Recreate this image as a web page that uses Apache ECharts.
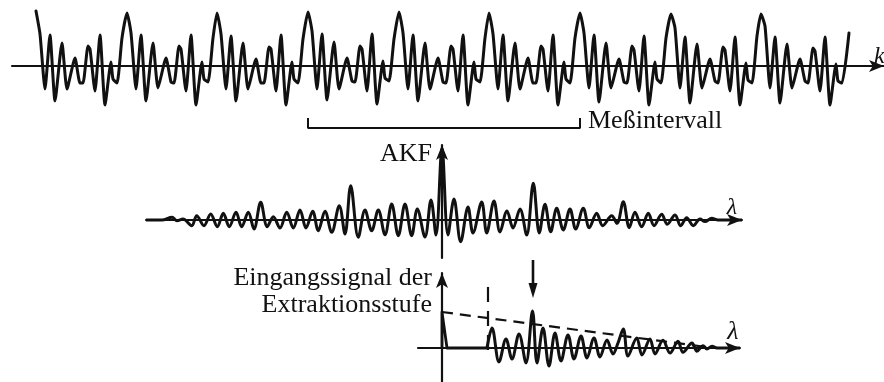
<!DOCTYPE html>
<html>
<head>
<meta charset="utf-8">
<script src="https://cdn.jsdelivr.net/npm/echarts@6/dist/echarts.min.js"></script>
<style>
  html, body { margin: 0; padding: 0; background: #fff; }
  #chart { width: 884px; height: 382px; }
</style>
</head>
<body>
<div id="chart"></div>
<script>
// Periodic measured signal x(k): lag positions and amplitudes of its turning points
const signalK = [
  0, 4, 9, 14, 19, 26, 31, 39, 44, 47, 52, 54, 59, 64, 69, 75, 77, 81, 86,
  91, 95, 100, 105, 110, 117, 122, 130, 135, 138, 143, 145, 150, 155, 160, 166, 168, 172, 177,
  181, 185, 190, 195, 200, 207, 212, 220, 225, 228, 233, 235, 240, 245, 250, 256, 258, 262, 267,
  272, 276, 281, 286, 291, 298, 303, 311, 316, 319, 324, 326, 331, 336, 341, 347, 349, 353, 358,
  363, 367, 372, 377, 382, 389, 394, 402, 407, 410, 415, 417, 422, 427, 432, 438, 440, 444, 449,
  453, 457, 462, 467, 472, 479, 484, 492, 497, 500, 505, 507, 512, 517, 522, 528, 530, 534, 539,
  544, 548, 553, 558, 563, 570, 575, 583, 588, 591, 596, 598, 603, 608, 613, 619, 621, 625, 630,
  635, 639, 644, 649, 654, 661, 666, 674, 679, 682, 687, 689, 694, 699, 704, 710, 712, 716, 721,
  725, 729, 734, 739, 744, 751, 756, 764, 769, 772, 777, 779, 784, 789, 794, 800, 802, 806, 813
];
const signalX = [
  55, 32, -23, 31, -35, 23, -23, 8, -17, -17, 20, 17, -25, 31, -39, 4, -13, -17, 28,
  53, 33, -23, 31, -35, 23, -22, 8, -16, -17, 20, 17, -25, 31, -39, 4, -13, -16, 28,
  53, 32, -23, 30, -35, 23, -23, 7, -17, -17, 19, 17, -25, 31, -39, 4, -13, -17, 27,
  54, 35, -23, 32, -34, 24, -23, 8, -15, -16, 20, 17, -25, 32, -38, 5, -12, -15, 27,
  54, 33, -23, 31, -35, 23, -23, 8, -16, -17, 20, 17, -25, 31, -39, 4, -13, -16, 28,
  53, 32, -23, 31, -35, 23, -23, 8, -17, -17, 20, 17, -25, 31, -39, 4, -13, -17, 28,
  53, 33, -22, 31, -36, 23, -22, 7, -16, -17, 20, 16, -25, 30, -39, 4, -13, -17, 28,
  52, 38, -22, 29, -37, 22, -22, 7, -15, -17, 19, 16, -25, 29, -39, 3, -14, -17, 30,
  52, 40, -22, 29, -37, 22, -22, 7, -15, -17, 18, 15, -25, 29, -39, 2, -15, -17, 33
];
// Measuring interval (three signal periods)
const intervalK = [272, 544];
const bracketLevels = [-52, -62];

// Autocorrelation function AKF(λ)
const akfLag = [
  -296, -280, -270, -265, -259, -250.3, -245.3, -238, -231.3, -224.7, -218.7, -212.7, -206, -200.3,
  -193.7, -188, -181.3, -174.7, -168.7, -162, -155.3, -148.7, -142, -136, -129.3, -123.7, -117,
  -110.3, -102.7, -97, -91.3, -83.7, -77, -70.3, -63.7, -57, -50.3, -43.7, -37, -30.3, -24.7, -17,
  -11, -6, 0, 6, 12, 18.7, 26, 31, 39.7, 44.7, 52, 58, 65, 71, 78, 84.7, 91.3, 97.3, 103, 108.7,
  114.7, 121.3, 128, 133.7, 141.3, 147.3, 154.7, 160.7, 169.7, 175, 181.3, 187.3, 193, 199.7, 206.3,
  212, 219.7, 225.3, 233, 238.7, 244.7, 251.3, 258, 263, 269.7, 276, 300
];
const akfValue = [
  0, 0, 2.7, -0.7, 1, -5.7, 4.3, -5.7, 6, -6.7, 6.7, -6.7, 7.7, -6.7,
  7.7, -9, 17.7, -6.7, 3.3, -8, 7.7, -8, 10, -8, 8.7, -10.7, 8.7,
  -12.3, 14.3, -14, 34.3, -17.3, 10, -10.7, 10, -14.7, 16, -15.7, 16, -15.7, 11, -17,
  20, -15, 72, -15, 21, -21.7, 13, -13, 18, -13, 19, -12, 9, -8, 11, -15, 36.7, -13, 15.7, -11.7,
  11.7, -10, 11, -9, 11.7, -7.7, 6.7, -5.7, 4.3, -3.3, 18.3, -7.7, 7.7, -6.7, 6.7,
  -5.7, 5.7, -4.3, 5, -5.7, 2.3, -5.7, 1, -1.5, 1.7, 0, 0
];

// Input of the extraction stage: zero-lag spike, blanked region, then the AKF tail
const spikeLag = [0, 0, 5, 45];
const spikeValue = [0, 36, 0, 0];
const inputLag = [
  45, 50, 57, 64, 70, 77, 84, 90.5, 95, 101, 107, 113, 119, 126, 132, 139, 145, 152, 158, 165,
  171, 176, 181.3, 186, 194.7, 200, 208, 213, 221, 228, 236, 241, 250, 255, 261, 265, 270, 275, 298
];
const inputValue = [
  0, 20, -14, 9, -11, 14, -15, 37, -15, 20, -18, 15, -13, 13, -11, 12, -10, 10, -9, 8,
  -6, 5, 19, -8, 10, -7, 9, -6, 7.7, -5, 6.7, -4.3, 5, -3.3, 2.3, -1, 1.7, 0, 0
];
// Decaying threshold line, blanking boundary and the selected maximum
const envelopeLag = [0, 272];
const envelopeValue = [36, 0];
const cutLag = 46;
const cutValues = [61, -7];
const markedLag = 91;
const markerValues = [88, 57.5];

const zip = (xs, ys) => xs.map((x, i) => [x, ys[i]]);
const INK = '#111';
const SERIF = "'Liberation Serif', 'DejaVu Serif', serif";

function arrowAxis(extra) {
  return Object.assign({
    type: 'value',
    axisLine: {
      show: true, onZero: true,
      symbol: ['none', 'arrow'], symbolSize: [9, 15],
      lineStyle: { color: INK, width: 2.2 }
    },
    axisTick: { show: false },
    axisLabel: { show: false },
    splitLine: { show: false }
  }, extra);
}

function text(str, x, y, align, size, italic) {
  return {
    type: 'text', x: x, y: y, silent: true,
    style: {
      text: str,
      font: (italic ? 'italic ' : '') + size + 'px ' + SERIF,
      fill: INK,
      align: align, verticalAlign: 'middle',
      textAlign: align, textVerticalAlign: 'middle'
    }
  };
}

const chart = echarts.init(document.getElementById('chart'));

chart.setOption({
  backgroundColor: '#fff',
  animation: false,
  grid: [
    { left: 12, top: 0, width: 872, height: 136 },
    { left: 146, top: 145, width: 596, height: 113 },
    { left: 418, top: 273, width: 322, height: 109 }
  ],
  xAxis: [
    arrowAxis({ gridIndex: 0, min: -24, max: 848 }),
    arrowAxis({ gridIndex: 1, min: -296, max: 300 }),
    arrowAxis({ gridIndex: 2, min: -24, max: 298 })
  ],
  yAxis: [
    { type: 'value', gridIndex: 0, min: -70, max: 66, show: false },
    arrowAxis({ gridIndex: 1, min: -38, max: 75 }),
    arrowAxis({ gridIndex: 2, min: -34, max: 75 })
  ],
  series: [
    {
      name: 'x(k)', type: 'line', xAxisIndex: 0, yAxisIndex: 0,
      data: zip(signalK, signalX), smooth: 0.18, symbol: 'none',
      lineStyle: { color: INK, width: 3, join: 'round', cap: 'round' }
    },
    {
      name: 'Meßintervall', type: 'line', xAxisIndex: 0, yAxisIndex: 0,
      data: [
        [intervalK[0], bracketLevels[0]], [intervalK[0], bracketLevels[1]],
        [intervalK[1], bracketLevels[1]], [intervalK[1], bracketLevels[0]]
      ],
      symbol: 'none', lineStyle: { color: INK, width: 2 }
    },
    {
      name: 'AKF', type: 'line', xAxisIndex: 1, yAxisIndex: 1,
      data: zip(akfLag, akfValue), smooth: 0.35, symbol: 'none',
      lineStyle: { color: INK, width: 3, join: 'round' }
    },
    {
      name: 'Spitze', type: 'line', xAxisIndex: 2, yAxisIndex: 2,
      data: zip(spikeLag, spikeValue), symbol: 'none',
      lineStyle: { color: INK, width: 2.8, join: 'round' }
    },
    {
      name: 'Eingangssignal', type: 'line', xAxisIndex: 2, yAxisIndex: 2,
      data: zip(inputLag, inputValue), smooth: 0.35, symbol: 'none',
      lineStyle: { color: INK, width: 3, join: 'round' }
    },
    {
      name: 'Schwelle', type: 'line', xAxisIndex: 2, yAxisIndex: 2,
      data: zip(envelopeLag, envelopeValue), symbol: 'none',
      lineStyle: { color: INK, width: 2.2, type: [11, 7] }
    },
    {
      name: 'Grenze', type: 'line', xAxisIndex: 2, yAxisIndex: 2,
      data: cutValues.map(v => [cutLag, v]), symbol: 'none', clip: false,
      lineStyle: { color: INK, width: 2.2, type: [15, 9] }
    },
    {
      name: 'Maximum', type: 'line', xAxisIndex: 2, yAxisIndex: 2, clip: false,
      data: [
        { value: [markedLag, markerValues[0]], symbol: 'none' },
        { value: [markedLag, markerValues[1]], symbol: 'triangle', symbolSize: [9, 15], symbolRotate: 180 }
      ],
      itemStyle: { color: INK },
      lineStyle: { color: INK, width: 2.6 }
    }
  ],
  graphic: [
    text('k', 874, 57, 'left', 24, true),
    text('Meßintervall', 588, 121, 'left', 26),
    text('AKF', 432, 154, 'right', 26),
    text('λ', 732, 208, 'center', 24, true),
    text('Eingangssignal der', 432, 278, 'right', 26),
    text('Extraktionsstufe', 432, 305, 'right', 26),
    text('λ', 733, 332, 'center', 26, true)
  ]
});
</script>
</body>
</html>
